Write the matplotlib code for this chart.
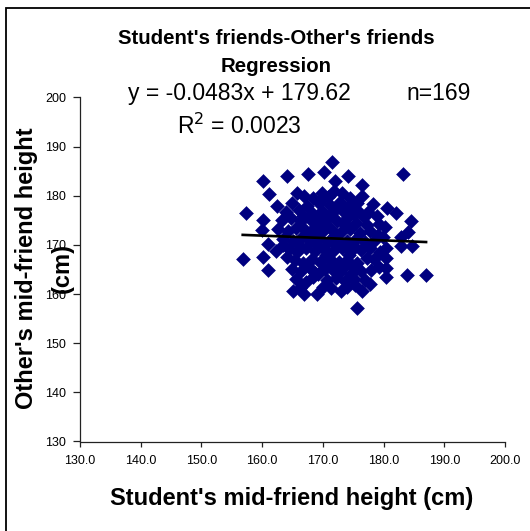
import matplotlib
matplotlib.use("Agg")
import matplotlib.pyplot as plt
import numpy as np
from matplotlib.patches import Rectangle

plt.rcParams['font.family'] = ['Liberation Sans', 'DejaVu Sans']

# ---- data ----
outlier_x = [160.1, 164.1, 161.2, 157.4, 162.5, 160.1, 160.0, 156.8, 160.1, 161.0,
             160.9, 163.4, 164.1, 165.0, 165.8, 167.5, 170.2, 171.5, 172.0, 174.1,
             183.2, 176.5, 176.5, 173.1, 180.5, 182.1, 184.5, 184.0, 184.6, 182.9,
             180.4, 180.4, 180.4, 180.4, 183.8, 187.0, 175.6, 173.0, 176.5, 169.0,
             166.9, 169.2, 173.9, 180.2, 177.5, 175.8, 179.9, 182.9, 178.5, 172.8,
             174.7, 169.8]
outlier_y = [183.1, 184.1, 180.4, 176.5, 177.9, 175.1, 173.0, 167.2, 167.5, 164.8,
             170.1, 169.9, 167.5, 160.7, 180.5, 184.4, 184.9, 186.9, 183.0, 184.1,
             184.4, 182.2, 180.0, 180.5, 177.5, 176.4, 174.8, 172.6, 169.8, 169.8,
             169.4, 167.3, 165.4, 163.4, 163.9, 163.9, 157.2, 160.7, 160.7, 160.0,
             160.0, 164.0, 161.4, 173.6, 176.7, 177.0, 171.7, 171.7, 167.2, 164.5,
             164.1, 180.5]

core_x = [166.9, 168.4, 170.9, 171.9, 174.4,
          164.9, 167.4, 169.4, 171.2, 172.9, 174.2, 175.6, 178.2,
          163.9, 166.0, 168.2, 169.9, 171.7, 173.3, 175.2, 176.8, 178.9,
          163.3, 164.8, 166.4, 167.9, 169.2, 170.7, 172.3, 173.8, 175.4, 177.2, 179.2,
          162.6, 164.2, 165.6, 167.1, 168.5, 170.0, 171.4, 173.0, 174.5, 176.1, 177.7, 179.1,
          163.4, 165.0, 166.4, 167.8, 169.3, 170.9, 172.4, 173.9, 175.4, 177.0, 178.4,
          162.2, 164.4, 165.7, 167.2, 168.7, 170.2, 171.7, 173.2, 174.7, 176.3, 177.8, 179.4,
          165.4, 166.7, 168.2, 169.6, 171.1, 172.6, 174.0, 175.6, 177.2, 179.2,
          164.9, 166.4, 167.8, 170.3, 171.8, 173.3, 174.9, 176.2, 177.9,
          165.6, 167.2, 168.3, 170.6, 172.1, 173.7, 175.2, 177.0,
          166.2, 170.0, 171.4, 175.3, 177.8,
          168.9, 170.3, 172.0, 168.1, 170.5, 169.0, 172.2, 173.6, 166.8, 169.4,
          172.4, 166.1, 175.0, 171.3, 168.7, 174.3, 169.7]
core_y = [180.0, 179.5, 179.8, 181.0, 179.5,
          178.5, 178.0, 178.6, 178.2, 178.8, 177.8, 178.5, 178.3,
          176.8, 177.2, 176.5, 177.0, 176.6, 176.9, 176.2, 175.6, 175.8,
          175.0, 175.5, 174.8, 175.2, 174.6, 175.3, 174.9, 175.2, 174.5, 174.0, 174.3,
          173.2, 172.8, 173.5, 173.0, 173.4, 172.8, 173.3, 172.7, 173.2, 172.5, 172.8, 172.0,
          171.2, 170.8, 171.4, 170.9, 171.3, 170.6, 171.1, 170.7, 171.3, 170.5, 170.9,
          168.8, 169.2, 168.6, 169.3, 168.7, 169.2, 168.8, 169.4, 168.7, 169.0, 169.4, 168.6,
          167.0, 166.4, 167.1, 166.6, 167.2, 166.5, 167.0, 166.3, 167.3, 165.6,
          165.2, 164.6, 165.3, 165.0, 164.6, 165.3, 165.6, 164.7, 164.8,
          163.0, 162.5, 163.4, 162.8, 163.2, 162.7, 163.0, 162.9,
          161.3, 161.5, 161.2, 161.8, 162.0,
          172.2, 174.0, 172.0, 172.1, 168.0, 170.0, 170.0, 174.0, 175.9, 176.0,
          177.7, 170.0, 170.0, 166.0, 164.2, 168.0, 179.2]

student_x = outlier_x + core_x
other_y = outlier_y + core_y

slope = -0.0483
intercept = 179.62
r_squared = 0.0023
n_label = "n=169"

title = "Student's friends-Other's friends\nRegression"
xlabel = "Student's mid-friend height (cm)"
ylabel = "Other's mid-friend height\n(cm)"
xticks = [130, 140, 150, 160, 170, 180, 190, 200]
yticks = [130, 140, 150, 160, 170, 180, 190, 200]

# ---- figure ----
W, H = 530, 531
fig = plt.figure(figsize=(W / 100, H / 100), dpi=100)
ax = fig.add_axes([80 / W, 1 - 441.5 / H, 425 / W, 344 / H])

ax.scatter(student_x, other_y, marker='D', s=50, color='#000080',
           edgecolors='#000080', linewidths=0.4, zorder=2)

xs = np.array([min(student_x), max(student_x)])
ax.plot(xs, slope * xs + intercept, color='black', lw=1.9, zorder=3)

ax.set_xlim(130, 200)
ax.set_ylim(130, 200)
ax.set_xticks(xticks)
ax.set_yticks(yticks)
ax.set_xticklabels([f"{t:.1f}" for t in xticks])
ax.set_yticklabels([f"{t}" for t in yticks])
ax.tick_params(axis='both', direction='out', width=0.9, labelsize=9,
               color='#222222')
ax.tick_params(axis='x', length=3.4, pad=6)
ax.tick_params(axis='y', length=5, pad=5)
for s in ['top', 'right']:
    ax.spines[s].set_visible(False)
for s in ['left', 'bottom']:
    ax.spines[s].set_linewidth(0.9)
    ax.spines[s].set_color('#222222')

def fy(py):
    return 1 - py / H

fig.text(276 / W, fy(52.4), title, ha='center', va='center', fontsize=14.7,
         fontweight='bold', linespacing=1.6)
fig.text(239 / W, fy(93.6), f"y = {slope:.4f}x + {intercept:.2f}", ha='center',
         va='center', fontsize=16.5)
fig.text(439 / W, fy(93.6), n_label, ha='center', va='center', fontsize=16.5)
fig.text(239 / W, fy(126), f"R$^2$ = {r_squared:.4f}", ha='center', va='center',
         fontsize=16.5)
fig.text(292 / W, fy(499), xlabel, ha='center', va='center', fontsize=17,
         fontweight='bold')
fig.text(44.5 / W, fy(268), ylabel, ha='center', va='center', fontsize=17,
         fontweight='bold', rotation=90, linespacing=1.7, multialignment='center')

fig.patches.append(Rectangle((5.7 / W, -0.05), 1.1, fy(8) + 0.05,
                             transform=fig.transFigure, fill=False,
                             edgecolor='black', linewidth=1.3))

fig.savefig("out.png", dpi=100)
